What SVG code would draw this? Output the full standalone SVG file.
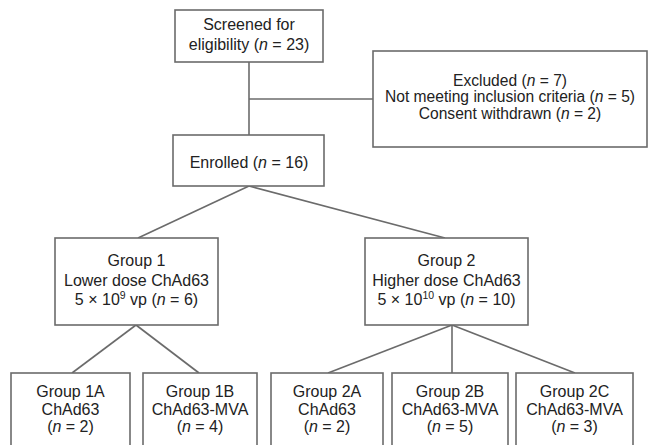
<svg xmlns="http://www.w3.org/2000/svg" width="648" height="445" viewBox="0 0 648 445">
<style>
.box{fill:#fff;stroke:#6b6b6b;stroke-width:1.6}
.ln{stroke:#6b6b6b;stroke-width:1.6;fill:none}
text{font-family:"Liberation Sans",Arial,sans-serif;font-size:16px;fill:#222;text-anchor:middle}
.ex{font-size:15.6px}
.i{font-style:italic}
.sup{font-size:10.5px}
</style>
<rect width="648" height="445" fill="#fff"/>
<g id="connectors">
<line class="ln" x1="249" y1="62" x2="249" y2="135"/>
<line class="ln" x1="249" y1="99" x2="373" y2="99"/>
<line class="ln" x1="249" y1="186" x2="138" y2="238"/>
<line class="ln" x1="249" y1="186" x2="445" y2="238"/>
<line class="ln" x1="136" y1="325" x2="72" y2="373"/>
<line class="ln" x1="136" y1="325" x2="199" y2="373"/>
<line class="ln" x1="452" y1="325" x2="328" y2="373"/>
<line class="ln" x1="452" y1="325" x2="452" y2="373"/>
<line class="ln" x1="452" y1="325" x2="575" y2="373"/>
</g>
<g id="screened">
<rect class="box" x="175" y="10" width="148" height="52"/>
<text x="249" y="30">Screened for</text>
<text x="249" y="49.5">eligibility (<tspan class="i">n</tspan> = 23)</text>
</g>
<g id="excluded">
<rect class="box" x="373" y="51" width="274" height="96"/>
<text class="ex" x="510" y="85.5">Excluded (<tspan class="i">n</tspan> = 7)</text>
<text class="ex" x="510" y="102">Not meeting inclusion criteria (<tspan class="i">n</tspan> = 5)</text>
<text class="ex" x="510" y="118.5">Consent withdrawn (<tspan class="i">n</tspan> = 2)</text>
</g>
<g id="enrolled">
<rect class="box" x="173" y="135" width="151" height="51"/>
<text x="249" y="168">Enrolled (<tspan class="i">n</tspan> = 16)</text>
</g>
<g id="group1">
<rect class="box" x="55" y="238" width="163" height="87"/>
<text x="136.5" y="266">Group 1</text>
<text x="136.5" y="285.5">Lower dose ChAd63</text>
<text x="136.5" y="305">5 × 10<tspan class="sup" dy="-6">9</tspan><tspan dy="6"> vp (</tspan><tspan class="i">n</tspan> = 6)</text>
</g>
<g id="group2">
<rect class="box" x="365" y="238" width="163" height="87"/>
<text x="446.5" y="266">Group 2</text>
<text x="446.5" y="285.5">Higher dose ChAd63</text>
<text x="446.5" y="305">5 × 10<tspan class="sup" dy="-6">10</tspan><tspan dy="6"> vp (</tspan><tspan class="i">n</tspan> = 10)</text>
</g>
<g id="group1a">
<rect class="box" x="11" y="373" width="119" height="80"/>
<text x="70.5" y="396.5">Group 1A</text>
<text x="70.5" y="414.5">ChAd63</text>
<text x="70.5" y="432">(<tspan class="i">n</tspan> = 2)</text>
</g>
<g id="group1b">
<rect class="box" x="143" y="373" width="114" height="80"/>
<text x="200" y="396.5">Group 1B</text>
<text x="200" y="414.5">ChAd63-MVA</text>
<text x="200" y="432">(<tspan class="i">n</tspan> = 4)</text>
</g>
<g id="group2a">
<rect class="box" x="271" y="373" width="112" height="80"/>
<text x="327" y="396.5">Group 2A</text>
<text x="327" y="414.5">ChAd63</text>
<text x="327" y="432">(<tspan class="i">n</tspan> = 2)</text>
</g>
<g id="group2b">
<rect class="box" x="392" y="373" width="116" height="80"/>
<text x="450" y="396.5">Group 2B</text>
<text x="450" y="414.5">ChAd63-MVA</text>
<text x="450" y="432">(<tspan class="i">n</tspan> = 5)</text>
</g>
<g id="group2c">
<rect class="box" x="516" y="373" width="117" height="80"/>
<text x="574.5" y="396.5">Group 2C</text>
<text x="574.5" y="414.5">ChAd63-MVA</text>
<text x="574.5" y="432">(<tspan class="i">n</tspan> = 3)</text>
</g>
</svg>
